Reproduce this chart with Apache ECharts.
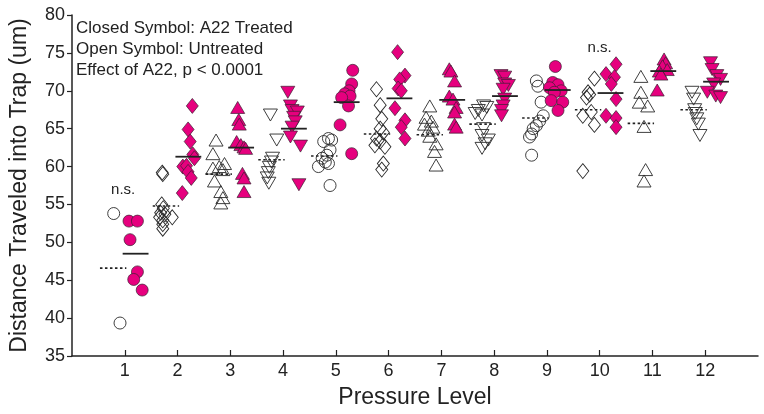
<!DOCTYPE html>
<html>
<head>
<meta charset="utf-8">
<script src="https://cdn.jsdelivr.net/npm/echarts@6/dist/echarts.min.js"></script>
<style>html,body{margin:0;padding:0;background:#fff}#c{width:764px;height:414px}</style>
</head>
<body>
<div id="c"></div>
<script>
// ---- data ----
const levels = [1,2,3,4,5,6,7,8,9,10,11,12];
const xTickLabels = ['1','2','3','4','5','6','7','8','9','10','11','12'];
const yTicks = [35,40,45,50,55,60,65,70,75,80];

// untreated (open symbols): [x, distance]
const u1 = [[0.79,53.8],[0.91,39.35]];
const u2 = [[1.71,59.2],[1.72,59.0],[1.70,55.0],[1.73,54.5],[1.68,53.9],[1.76,53.7],[1.66,53.3],[1.90,53.3],[1.72,52.9],[1.72,52.4],[1.72,51.8]];
const u3 = [[2.73,63.5],[2.67,61.7],[2.89,60.4],[2.79,60.0],[2.67,59.8],[2.86,59.6],[2.70,58.1],[2.82,56.7],[2.86,55.9],[2.82,55.2]];
const u4 = [[3.76,66.8],[3.88,63.5],[3.80,61.1],[3.78,60.6],[3.74,59.9],[3.72,59.2],[3.70,58.5],[3.73,57.8]];
const u5 = [[4.86,63.7],[4.92,63.5],[4.77,63.3],[4.89,62.2],[4.83,61.5],[4.74,61.1],[4.80,60.6],[4.86,60.4],[4.67,60.0],[4.89,57.5]];
const u6 = [[5.77,70.2],[5.84,68.1],[5.87,66.3],[5.84,65.0],[5.90,64.5],[5.77,63.7],[5.84,63.3],[5.74,62.8],[5.93,62.6],[5.90,60.4],[5.87,59.6]];
const u7 = [[6.78,68.0],[6.71,66.5],[6.81,66.0],[6.68,65.6],[6.84,65.2],[6.75,64.8],[6.78,64.0],[6.90,63.0],[6.87,62.0],[6.90,60.2]];
const u8 = [[7.80,68.0],[7.86,67.8],[7.70,67.4],[7.64,67.0],[7.77,66.8],[7.80,65.0],[7.77,64.1],[7.89,63.5],[7.83,63.0],[7.77,62.4]];
const u9 = [[8.80,71.3],[8.83,70.6],[8.89,68.5],[8.93,66.7],[8.86,66.0],[8.80,65.4],[8.74,65.0],[8.71,64.3],[8.67,63.9],[8.71,61.5]];
const u10 = [[9.90,71.6],[9.78,69.8],[9.81,69.5],[9.75,69.1],[9.84,67.2],[9.68,66.7],[9.90,65.5],[9.68,59.4]];
const u11 = [[10.78,71.9],[10.78,69.8],[10.75,68.5],[10.91,68.0],[10.84,65.3],[10.87,59.6],[10.84,58.1]];
const u12 = [[11.75,69.8],[11.78,68.9],[11.80,67.5],[11.81,67.0],[11.84,66.3],[11.87,65.6],[11.90,64.1]];

// treated with A22 (closed symbols): [x, distance]
const t1 = [[1.08,52.8],[1.24,52.8],[1.10,50.35],[1.24,46.1],[1.17,45.1],[1.33,43.7]];
const t2 = [[2.28,68.0],[2.20,64.9],[2.24,63.3],[2.29,61.6],[2.32,61.1],[2.10,60.0],[2.17,60.1],[2.20,59.3],[2.26,58.5],[2.09,56.5]];
const t3 = [[3.14,67.8],[3.16,66.2],[3.17,65.6],[3.12,63.3],[3.20,62.9],[3.26,62.6],[3.29,62.4],[3.23,59.1],[3.26,58.5],[3.26,56.7]];
const t4 = [[4.09,69.8],[4.14,68.0],[4.17,67.4],[4.27,67.2],[4.20,66.5],[4.23,65.9],[4.17,65.2],[4.14,63.9],[4.33,62.7],[4.30,57.6]];
const t5 = [[5.32,72.7],[5.30,70.9],[5.25,70.0],[5.17,69.6],[5.27,69.3],[5.11,69.1],[5.24,68.0],[5.08,65.5],[5.30,61.7]];
const t6 = [[6.17,75.1],[6.31,72.0],[6.21,71.5],[6.18,70.3],[6.24,70.0],[6.12,67.7],[6.31,66.1],[6.24,65.2],[6.31,63.7]];
const t7 = [[7.15,72.9],[7.18,72.6],[7.25,71.3],[7.15,69.3],[7.22,68.9],[7.28,67.8],[7.25,67.2],[7.25,65.6],[7.28,65.2]];
const t8 = [[8.13,72.0],[8.20,71.8],[8.20,70.9],[8.27,70.7],[8.17,70.2],[8.20,68.9],[8.17,68.0],[8.14,67.4],[8.14,66.7]];
const t9 = [[9.16,73.2],[9.11,71.1],[9.21,70.8],[9.05,70.4],[9.27,70.0],[9.14,69.8],[9.08,68.7],[9.30,68.5],[9.21,67.4]];
const t10 = [[10.31,73.5],[10.12,72.2],[10.28,71.8],[10.22,70.9],[10.31,68.9],[10.12,66.7],[10.31,66.4],[10.31,65.2]];
const t11 = [[11.22,74.2],[11.25,73.7],[11.19,73.3],[11.28,72.8],[11.13,72.6],[11.16,72.2],[11.09,70.1]];
const t12 = [[12.10,73.7],[12.13,72.8],[12.22,72.0],[12.29,71.5],[12.16,70.9],[12.04,69.8],[12.20,69.3],[12.29,69.1]];

// group means (horizontal bars)
const meanUntreated = [46.6,54.8,59.0,60.9,61.4,64.3,64.2,65.6,66.4,67.5,65.7,67.5];
const meanTreated   = [48.5,61.3,62.5,65.0,68.5,69.0,68.8,69.3,70.1,69.7,72.6,71.2];

// annotations
const nsPoints = [[0.97,56.9],[10.0,75.7]];
const noteLines = ['Closed Symbol: A22 Treated','Open Symbol: Untreated','Effect of A22, p < 0.0001'];

// ---- build chart ----
const untreated = [u1,u2,u3,u4,u5,u6,u7,u8,u9,u10,u11,u12];
const treated = [t1,t2,t3,t4,t5,t6,t7,t8,t9,t10,t11,t12];
const shapeCycle = ['circle','diamond','triangle','invtriangle'];
const MAG = '#e6007e';
const FONT = '"Liberation Sans", Arial, sans-serif';

function symbolFor(kind){
  if (kind === 'circle') return {symbol:'circle', symbolSize:12, symbolRotate:0};
  if (kind === 'diamond') return {symbol:'diamond', symbolSize:[12,15], symbolRotate:0};
  if (kind === 'triangle') return {symbol:'triangle', symbolSize:[14,12], symbolRotate:0};
  return {symbol:'triangle', symbolSize:[14,12], symbolRotate:180};
}

const series = [];
levels.forEach((lv, i) => {
  const s = symbolFor(shapeCycle[i % 4]);
  series.push(Object.assign({
    type:'scatter', data: untreated[i], z:2, silent:true,
    itemStyle:{color:'rgba(255,255,255,0)', borderColor:'#2a2a2a', borderWidth:0.9, opacity:1}
  }, s));
});
levels.forEach((lv, i) => {
  const s = symbolFor(shapeCycle[i % 4]);
  series.push(Object.assign({
    type:'scatter', data: treated[i], z:3, silent:true,
    itemStyle:{color:MAG, borderColor:'#3a2030', borderWidth:0.7, opacity:1}
  }, s));
});

function meanSeries(means, x0, x1, dashed){
  return {
    type:'custom', z:5, silent:true,
    data: levels.map((lv, i) => [lv, means[i]]),
    renderItem: function(params, api){
      const lv = api.value(0), m = api.value(1);
      const a = api.coord([lv + x0, m]);
      const b = api.coord([lv + x1, m]);
      return {
        type:'line',
        shape:{x1:a[0], y1:a[1], x2:b[0], y2:b[1]},
        style: dashed ? {stroke:'#222', lineWidth:1.6, lineDash:[2.5,2.5]} : {stroke:'#222', lineWidth:1.8}
      };
    }
  };
}
series.push(meanSeries(meanUntreated, -0.47, 0.03, true));
series.push(meanSeries(meanTreated, -0.04, 0.45, false));

series.push({
  type:'scatter', data: nsPoints, symbolSize:0, z:6, silent:true,
  itemStyle:{opacity:1},
  label:{show:true, position:'inside', formatter:'n.s.', color:'#222', fontSize:15, fontFamily:FONT}
});

const chart = echarts.init(document.getElementById('c'), null, {renderer:'canvas'});
chart.setOption({
  animation:false,
  backgroundColor:'#fff',
  grid:{left:65, right:6, top:15, bottom:54, containLabel:false},
  xAxis:{
    type:'value', min:0, max:13, interval:1,
    axisLine:{show:true, lineStyle:{color:'#222', width:1.5}},
    axisTick:{show:true, inside:true, length:6, lineStyle:{color:'#222', width:1.2}, customValues: levels},
    axisLabel:{color:'#222', fontSize:18, fontFamily:FONT, margin:6, customValues: levels,
      formatter: v => xTickLabels[levels.indexOf(v)] || ''},
    splitLine:{show:false},
    name:'Pressure Level', nameLocation:'middle', nameGap:30,
    nameTextStyle:{color:'#222', fontSize:23, fontFamily:FONT}
  },
  yAxis:{
    type:'value', min:35, max:80, interval:5,
    axisLine:{show:true, lineStyle:{color:'#222', width:1.5}},
    axisTick:{show:true, inside:false, length:5, lineStyle:{color:'#222', width:1.2}},
    axisLabel:{color:'#222', fontSize:18, fontFamily:FONT, margin:7,
      formatter: v => (yTicks.indexOf(v) >= 0 ? String(v) : '')},
    splitLine:{show:false},
    name:'Distance Traveled into Trap (um)', nameLocation:'middle', nameGap:41,
    nameTextStyle:{color:'#222', fontSize:23, fontFamily:FONT}
  },
  graphic: noteLines.map((t, i) => ({
    type:'text', left:76, top:20 + i*21, silent:true,
    style:{text:t, fill:'#222', fontSize:17, fontFamily:FONT}
  })),
  series: series
});
</script>
</body>
</html>
